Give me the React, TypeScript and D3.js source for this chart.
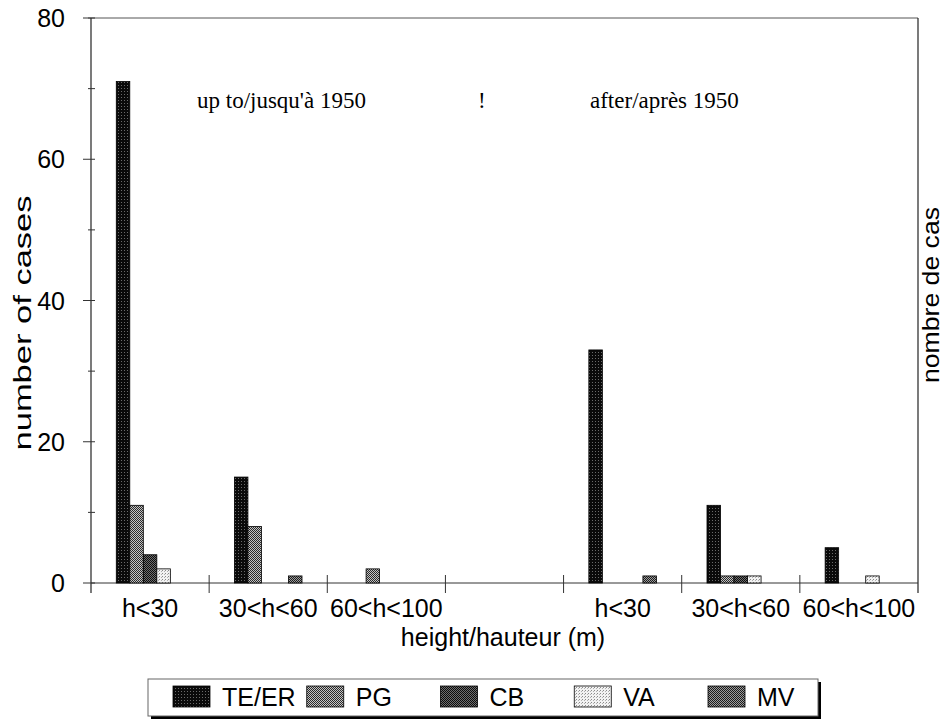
import React from "react";
import * as d3 from "d3";

const categories = ["h<30", "30<h<60", "60<h<100", "", "h<30", "30<h<60", "60<h<100"];
const seriesNames = ["TE/ER", "PG", "CB", "VA", "MV"];
const teEr = [71, 15, 0, 0, 33, 11, 5];
const pg = [11, 8, 2, 0, 0, 1, 0];
const cb = [4, 0, 0, 0, 0, 1, 0];
const va = [2, 0, 0, 0, 0, 1, 1];
const mv = [0, 1, 0, 0, 1, 0, 0];
const seriesValues = [teEr, pg, cb, va, mv];
const yTicks = [0, 20, 40, 60, 80];
const yMinorTicks = [10, 30, 50, 70];

const W = 945;
const H = 724;
const left = 91;
const right = 918;
const top = 18;
const bottom = 583;

const patternIds = ["pTE", "pPG", "pCB", "pVA", "pMV"];

export default function App() {
  const catKeys = categories.map((_, i) => String(i));
  const x = d3.scaleBand<string>().domain(catKeys).range([left, right]).padding(0);
  const inner = d3
    .scaleBand<string>()
    .domain(seriesNames)
    .range([0, x.bandwidth()])
    .paddingInner(0)
    .paddingOuter(1.87);
  const y = d3.scaleLinear().domain([0, 80]).range([bottom, top]);

  const font = "Arial, 'Liberation Sans', sans-serif";
  const serif = "'Times New Roman', 'Liberation Serif', serif";

  const legendX0 = 173;
  const legendStep = 133.75;

  return (
    <svg width={W} height={H} style={{ position: "absolute", left: 0, top: 0, background: "#fff" }}>
      <defs>
        <pattern id="pTE" width="3" height="3" patternUnits="userSpaceOnUse">
          <rect width="3" height="3" fill="#0a0a0a" />
          <rect x="1" y="1" width="1" height="1" fill="#6a6a6a" />
        </pattern>
        <pattern id="pPG" width="2" height="2" patternUnits="userSpaceOnUse">
          <rect width="2" height="2" fill="#c4c4c4" />
          <rect x="0" y="0" width="1" height="1" fill="#2a2a2a" />
          <rect x="1" y="1" width="1" height="1" fill="#2a2a2a" />
        </pattern>
        <pattern id="pCB" width="2" height="2" patternUnits="userSpaceOnUse">
          <rect width="2" height="2" fill="#6e6e6e" />
          <rect x="0" y="0" width="1" height="1" fill="#0c0c0c" />
          <rect x="1" y="1" width="1" height="1" fill="#0c0c0c" />
        </pattern>
        <pattern id="pVA" width="3" height="3" patternUnits="userSpaceOnUse">
          <rect width="3" height="3" fill="#f2f2f2" />
          <rect x="0" y="0" width="1" height="1" fill="#8a8a8a" />
          <rect x="2" y="1" width="1" height="1" fill="#b0b0b0" />
        </pattern>
        <pattern id="pMV" width="2" height="2" patternUnits="userSpaceOnUse">
          <rect width="2" height="2" fill="#9c9c9c" />
          <rect x="0" y="0" width="1" height="1" fill="#1c1c1c" />
          <rect x="1" y="1" width="1" height="1" fill="#1c1c1c" />
        </pattern>
      </defs>

      {/* frame */}
      <line x1={left - 3} x2={right} y1={top} y2={top} stroke="#555" strokeWidth={1} />
      <line x1={right} x2={right} y1={top} y2={bottom + 10} stroke="#222" strokeWidth={1.2} />
      <line x1={left} x2={left} y1={top} y2={bottom + 10} stroke="#222" strokeWidth={1.2} />
      <line x1={left} x2={right} y1={bottom} y2={bottom} stroke="#333" strokeWidth={1} />

      {/* y ticks */}
      {yTicks.map((t) => (
        <g key={"yt" + t}>
          <line x1={left - 8} x2={left + 4} y1={y(t)} y2={y(t)} stroke="#333" strokeWidth={1} />
          <text x={65} y={y(t)} dy="0.36em" textAnchor="end" fontFamily={font} fontSize={25} fill="#000">
            {t}
          </text>
        </g>
      ))}
      {yMinorTicks.map((t) => (
        <line key={"ym" + t} x1={left - 3} x2={left + 4} y1={y(t)} y2={y(t)} stroke="#333" strokeWidth={1} />
      ))}

      {/* x ticks */}
      {catKeys.slice(1).map((k) => (
        <line key={"xt" + k} x1={x(k)!} x2={x(k)!} y1={bottom - 8} y2={bottom + 10} stroke="#333" strokeWidth={1} />
      ))}

      {/* bars */}
      {seriesValues.map((vals, si) =>
        vals.map((v, ci) =>
          v > 0 ? (
            <rect
              key={si + "-" + ci}
              x={x(String(ci))! + inner(seriesNames[si])!}
              y={y(v)}
              width={inner.bandwidth()}
              height={y(0) - y(v)}
              fill={`url(#${patternIds[si]})`}
              stroke="#000"
              strokeWidth={0.8}
            />
          ) : null
        )
      )}

      {/* x labels */}
      {categories.map((c, i) => (
        <text
          key={"xl" + i}
          x={x(String(i))! + x.bandwidth() / 2}
          y={617}
          textAnchor="middle"
          fontFamily={font}
          fontSize={25}
          fill="#000"
        >
          {c}
        </text>
      ))}

      <text x={503} y={646} textAnchor="middle" fontFamily={font} fontSize={25} fill="#000">
        height/hauteur (m)
      </text>

      <text
        transform={`translate(31,323) rotate(-90)`}
        textAnchor="middle"
        fontFamily={font}
        fontSize={23}
        textLength={255}
        lengthAdjust="spacingAndGlyphs"
        fill="#000"
      >
        number of cases
      </text>
      <text
        transform={`translate(939,295) rotate(-90)`}
        textAnchor="middle"
        fontFamily={font}
        fontSize={24}
        textLength={176}
        lengthAdjust="spacingAndGlyphs"
        fill="#000"
      >
        nombre de cas
      </text>

      <text x={197} y={108} fontFamily={serif} fontSize={23} fill="#000">
        up to/jusqu'à 1950
      </text>
      <text x={478} y={108} fontFamily={serif} fontSize={23} fill="#000">
        !
      </text>
      <text x={590} y={108} fontFamily={serif} fontSize={23} fill="#000">
        after/après 1950
      </text>

      {/* legend */}
      <rect x={151} y={682} width={670} height={37} fill="#000" />
      <rect x={148} y={679} width={670} height={37} fill="#fff" stroke="#666" strokeWidth={1} />
      {seriesNames.map((s, i) => (
        <g key={"lg" + s}>
          <rect
            x={legendX0 + i * legendStep}
            y={686}
            width={37}
            height={21}
            fill={`url(#${patternIds[i]})`}
            stroke="#000"
            strokeWidth={0.8}
          />
          <text x={legendX0 + i * legendStep + 49} y={706} fontFamily={font} fontSize={25} fill="#000">
            {s}
          </text>
        </g>
      ))}
    </svg>
  );
}
